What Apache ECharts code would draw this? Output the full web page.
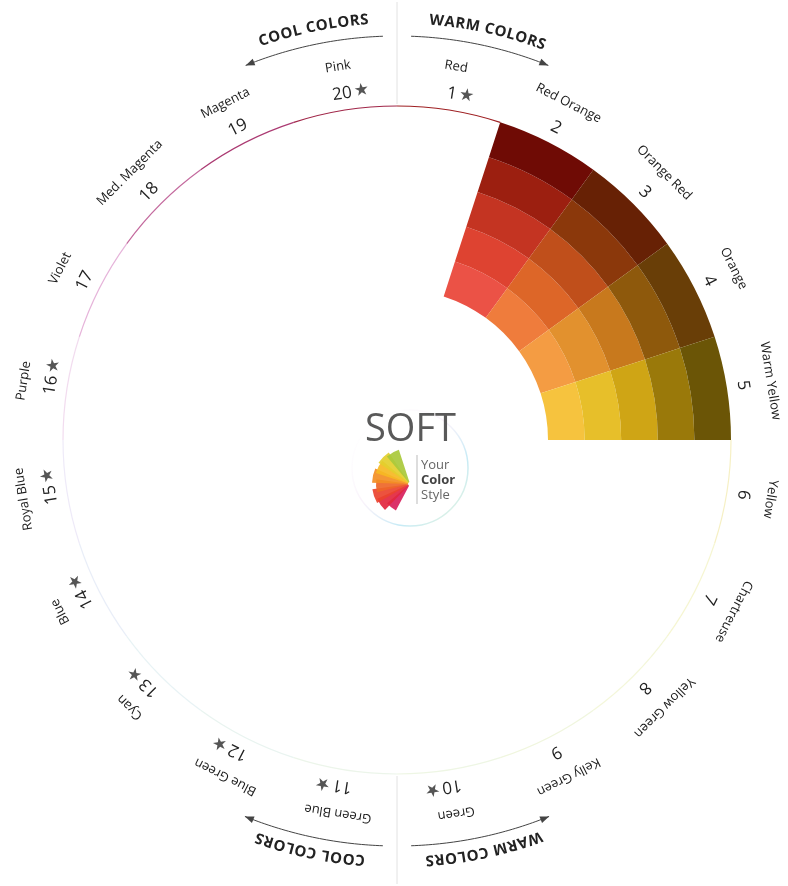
<!DOCTYPE html>
<html>
<head>
<meta charset="utf-8">
<title>Soft color wheel</title>
<script src="https://cdn.jsdelivr.net/npm/echarts@6/dist/echarts.min.js"></script>
<style>
  html, body { margin: 0; padding: 0; background: #fff; }
  #chart { width: 788px; height: 886px; }
</style>
</head>
<body>
<div id="chart"></div>
<script>
// hue names, clockwise from the top
const hueNames = ['Red', 'Red Orange', 'Orange Red', 'Orange', 'Warm Yellow', 'Yellow', 'Chartreuse',
  'Yellow Green', 'Kelly Green', 'Green', 'Green Blue', 'Blue Green', 'Cyan', 'Blue', 'Royal Blue',
  'Purple', 'Violet', 'Med. Magenta', 'Magenta', 'Pink'];
const hueNumbers = ['1', '2', '3', '4', '5', '6', '7', '8', '9', '10',
  '11', '12', '13', '14', '15', '16', '17', '18', '19', '20'];
const starredHues = ['Red', 'Green', 'Green Blue', 'Blue Green', 'Cyan', 'Blue', 'Royal Blue', 'Purple', 'Pink'];

// shades of the filled hues, inner ring -> outer ring
const redOrangeShades = ['#EB5246', '#DE4331', '#C43422', '#9C1F10', '#6F0B05'];
const orangeRedShades = ['#EF7C3C', '#DD6628', '#C04F1B', '#8B380B', '#672105'];
const orangeShades = ['#F49C43', '#E2912E', '#C8791D', '#8E590C', '#693E07'];
const warmYellowShades = ['#F6C33E', '#E7BF2A', '#CFA515', '#9A790A', '#6B5506'];
const ringNames = ['ring 1', 'ring 2', 'ring 3', 'ring 4', 'ring 5'];

// thin outer circle, one colour per hue (null where the shades cover it)
const outlineColors = ['#9E1F22', null, null, null, null, '#F6F0C4', '#F6F6D2', '#F4F7DA', '#F0F6DE',
  '#EEF6E4', '#ECF5EA', '#E9F4F0', '#E8F3F5', '#E9EEF8', '#EEEAF8', '#F2DCEF', '#E6B4DA',
  '#C46A9E', '#AB3A72', '#A02648'];

const shadeByHue = {
  'Red Orange': redOrangeShades,
  'Orange Red': orangeRedShades,
  'Orange': orangeShades,
  'Warm Yellow': warmYellowShades
};

const myChart = echarts.init(document.getElementById('chart'), null, { renderer: 'canvas' });

const measureCtx = document.createElement('canvas').getContext('2d');
function textWidth(str, font) {
  measureCtx.font = font;
  return measureCtx.measureText(str).width;
}
const rad = d => d * Math.PI / 180;

// text written along a circle, letter by letter (angle clockwise from the top)
function arcText(str, font, fill, cx, cy, R, centerDeg) {
  const chars = [...str];
  const widths = chars.map(ch => textWidth(ch, font) + 0.6);
  const total = widths.reduce((a, b) => a + b, 0);
  let s = rad(centerDeg) - total / R / 2;
  return chars.map((ch, k) => {
    const mid = s + widths[k] / 2 / R;
    s += widths[k] / R;
    return {
      type: 'text',
      x: cx + R * Math.sin(mid),
      y: cy - R * Math.cos(mid),
      rotation: -mid,
      style: { text: ch, font: font, fill: fill, align: 'center', verticalAlign: 'middle' }
    };
  });
}

function arcArrow(cx, cy, R, fromDeg, toDeg) {
  const pts = [];
  const n = 40;
  for (let k = 0; k <= n; k++) {
    const t = rad(fromDeg + (toDeg - fromDeg) * k / n);
    pts.push([cx + R * Math.sin(t), cy - R * Math.cos(t)]);
  }
  const te = rad(toDeg);
  const sign = toDeg > fromDeg ? 1 : -1;
  const dx = Math.cos(te) * sign, dy = Math.sin(te) * sign;
  const tip = pts[pts.length - 1];
  const bx = tip[0] - dx * 9, by = tip[1] - dy * 9;
  return [
    { type: 'polyline', shape: { points: pts }, style: { stroke: '#444', lineWidth: 1, fill: null } },
    {
      type: 'polygon',
      shape: { points: [tip, [bx - dy * 3.5, by + dx * 3.5], [bx + dy * 3.5, by - dx * 3.5]] },
      style: { fill: '#444' }
    }
  ];
}

function renderHueLabel(params, api) {
  const i = params.dataIndex;
  const cs = params.coordSys;
  const pNum = api.coord([5.45, i]);
  const pName = api.coord([6.2, i]);
  const theta = Math.atan2(pNum[0] - cs.cx, cs.cy - pNum[1]);
  const numFont = '17px "Open Sans"';
  const children = [
    {
      type: 'text', x: pNum[0], y: pNum[1], rotation: -theta,
      style: { text: hueNumbers[i], font: numFont, fill: '#222', align: 'center', verticalAlign: 'middle' }
    },
    {
      type: 'text', x: pName[0], y: pName[1], rotation: -theta,
      style: { text: hueNames[i], font: '13px "Open Sans"', fill: '#1a1a1a', align: 'center', verticalAlign: 'middle' }
    }
  ];
  if (starredHues.indexOf(hueNames[i]) >= 0) {
    const off = textWidth(hueNumbers[i], numFont) / 2 + 10;
    children.push({
      type: 'text',
      x: pNum[0] + Math.cos(theta) * off,
      y: pNum[1] + Math.sin(theta) * off,
      rotation: -theta,
      style: { text: '★', font: '17px "DejaVu Sans"', fill: '#555', align: 'center', verticalAlign: 'middle' }
    });
  }
  if (outlineColors[i]) {
    const half = Math.PI / hueNames.length;
    children.push({
      type: 'arc',
      shape: { cx: cs.cx, cy: cs.cy, r: cs.r, startAngle: theta - half - Math.PI / 2, endAngle: theta + half - Math.PI / 2, clockwise: true },
      style: { stroke: outlineColors[i], lineWidth: 1.2, fill: null }
    });
  }
  return { type: 'group', children: children };
}

function renderHeaders(params, api) {
  const cs = params.coordSys;
  const cx = cs.cx, cy = cs.cy;
  const font = 'bold 15px "Open Sans"';
  let children = [];
  children = children.concat(arcText('WARM COLORS', font, '#222', cx, cy, 421, 12.5));
  children = children.concat(arcText('COOL COLORS', font, '#222', cx, cy, 421, -11.5));
  children = children.concat(arcText('WARM COLORS', font, '#222', cx, cy, 421, 168));
  children = children.concat(arcText('COOL COLORS', font, '#222', cx, cy, 421, 192));
  children = children.concat(arcArrow(cx, cy, 404, 2, 22));
  children = children.concat(arcArrow(cx, cy, 404, -2, -22));
  children = children.concat(arcArrow(cx, cy, 406, 178, 158));
  children = children.concat(arcArrow(cx, cy, 406, 182, 202));
  children.push({ type: 'line', shape: { x1: cx, y1: cy - cs.r - 2, x2: cx, y2: 2 }, style: { stroke: '#e2e2e2', lineWidth: 1 } });
  children.push({ type: 'line', shape: { x1: cx, y1: cy + cs.r + 2, x2: cx, y2: 884 }, style: { stroke: '#e2e2e2', lineWidth: 1 } });
  return { type: 'group', children: children };
}

// logo petals (decoration)
const petalColors = ['#D81F5C', '#E2273F', '#EA432E', '#EE6628', '#F38E24', '#F6B923', '#E3CF2C', '#A9C93B'];
const petals = petalColors.map((c, k) => {
  const a0 = 118 + k * 16;
  return {
    type: 'sector',
    shape: { cx: 410, cy: 484, r0: 2, r: [30, 36, 38, 34, 38, 36, 38, 36][k], startAngle: rad(a0), endAngle: rad(a0 + 22), clockwise: true },
    style: { fill: c, opacity: 0.92 },
    z: 3
  };
});

const ringSeries = ringNames.map((name, k) => ({
  name: name,
  type: 'bar',
  coordinateSystem: 'polar',
  stack: 'shade',
  barCategoryGap: '0%',
  silent: true,
  data: hueNames.map(h => shadeByHue[h] ? { value: 1, itemStyle: { color: shadeByHue[h][k] } } : '-')
}));

const option = {
  animation: false,
  backgroundColor: '#fff',
  polar: { center: [397, 440], radius: [151, 334] },
  angleAxis: {
    type: 'category',
    data: hueNames,
    startAngle: 90,
    clockwise: true,
    boundaryGap: true,
    axisLine: { show: false },
    axisTick: { show: false },
    axisLabel: { show: false },
    splitLine: { show: false }
  },
  radiusAxis: { type: 'value', min: 0, max: 5, show: false },
  series: ringSeries.concat([
    {
      type: 'custom',
      coordinateSystem: 'polar',
      silent: true,
      data: hueNames.map((n, i) => [0, i]),
      renderItem: renderHueLabel,
      z: 5
    },
    {
      type: 'custom',
      coordinateSystem: 'polar',
      silent: true,
      data: [[0, 0]],
      renderItem: renderHeaders,
      z: 5
    }
  ]),
  graphic: [
    {
      type: 'circle',
      shape: { cx: 410, cy: 468, r: 58 },
      style: {
        fill: '#fff',
        lineWidth: 1.5,
        stroke: new echarts.graphic.LinearGradient(0, 0, 1, 1, [
          { offset: 0, color: 'rgba(255,255,255,0)' },
          { offset: 0.45, color: 'rgba(235,215,240,0.3)' },
          { offset: 0.7, color: 'rgba(130,210,235,0.45)' },
          { offset: 1, color: 'rgba(200,230,170,0.4)' }
        ])
      },
      z: 1
    },
    {
      type: 'text',
      left: 365, top: 411,
      style: { text: 'SOFT', font: '38px "Open Sans"', fill: '#595959' },
      z: 2
    }
  ].concat(petals).concat([
    { type: 'line', shape: { x1: 417, y1: 455, x2: 417, y2: 504 }, style: { stroke: '#bbb', lineWidth: 1 }, z: 2 },
    {
      type: 'text',
      left: 421, top: 459,
      style: {
        text: '{a|Your}\n{b|Color}\n{a|Style}',
        rich: {
          a: { font: '13px "Open Sans"', fill: '#666', lineHeight: 15 },
          b: { font: 'bold 13px "Open Sans"', fill: '#444', lineHeight: 15 }
        }
      },
      z: 2
    }
  ])
};

myChart.setOption(option);
</script>
</body>
</html>
